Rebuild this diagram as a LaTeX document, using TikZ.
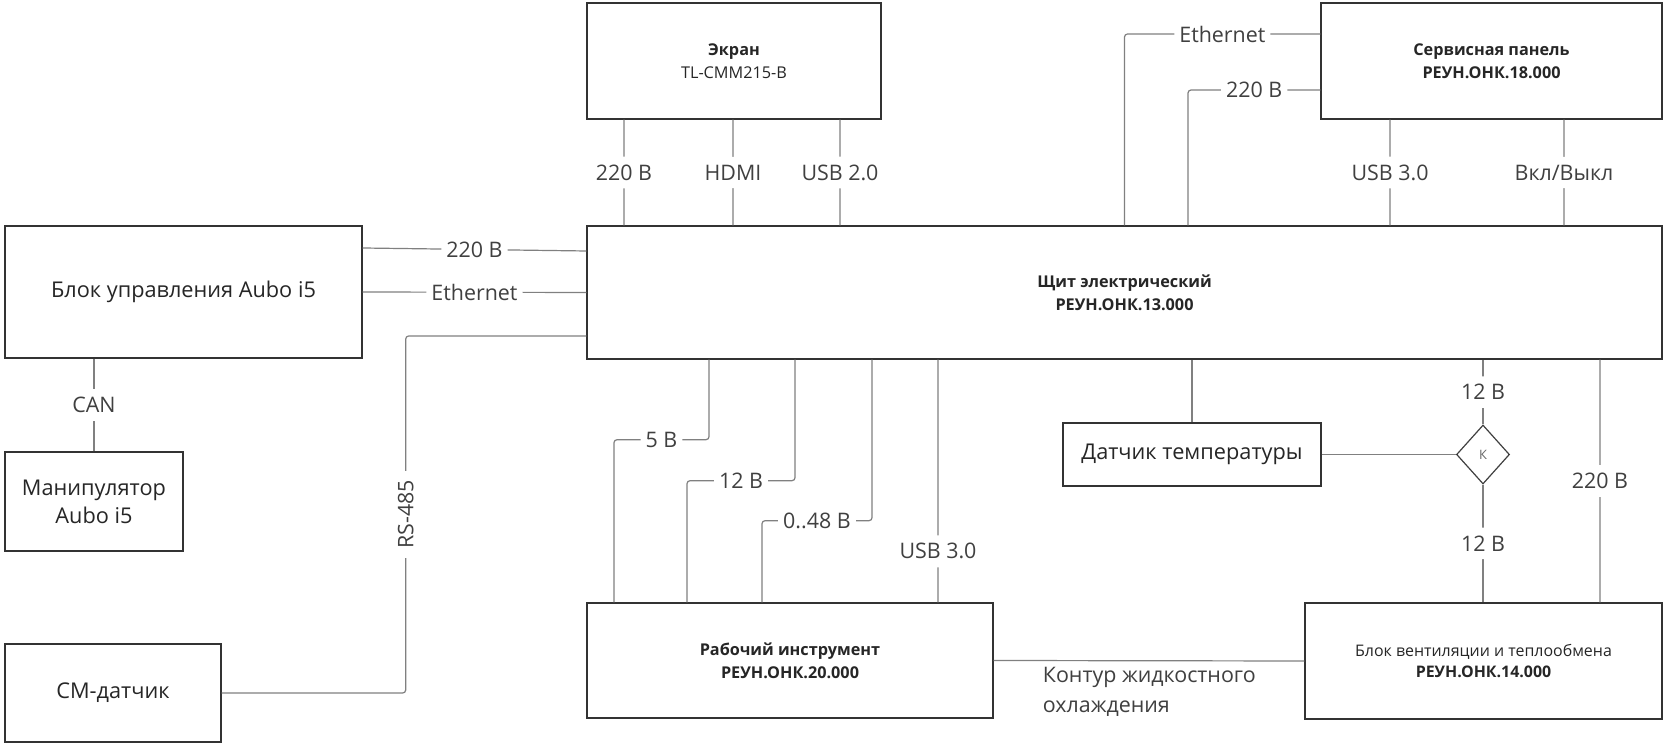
\documentclass[tikz,border=0pt]{standalone}
\usepackage{fontspec}
\setmainfont{Open Sans}
\usetikzlibrary{shapes.geometric}

\tikzset{
  unit/.style={draw=black!80,line width=1.4bp,text=black!85,align=center,inner sep=2bp,
    font=\fontsize{16.3}{23}\selectfont},
  unitlg/.style={unit,font=\fontsize{21.8}{28}\selectfont},
  wire/.style={draw=black!50,line width=1.2bp,rounded corners=3bp},
  lbl/.style={fill=white,text=black!75,font=\fontsize{21.5}{24}\selectfont,inner xsep=5bp,inner ysep=8bp},
  vlbl/.style={lbl,rotate=90,inner xsep=9bp,inner ysep=4bp},
}

\begin{document}
\begin{tikzpicture}[x=1bp,y=1bp]
  \path[use as bounding box] (0,0) rectangle (1669,748);
  \fill[white] (0,0) rectangle (1669,748);

  % blocks
  \node[unitlg,minimum width=357bp,minimum height=132bp] (blok) at (183.5,456) {Блок управления Aubo i5};
  \node[unitlg,minimum width=178bp,minimum height=99bp] (manip) at (94,246.5) {Манипулятор\\Aubo i5};
  \node[unitlg,minimum width=216bp,minimum height=98bp] (smdat) at (113,55) {СМ-датчик};
  \node[unit,minimum width=294bp,minimum height=116bp] (ekran) at (734,687) {{\bfseries Экран}\\TL-CMM215-B};
  \node[unit,minimum width=341bp,minimum height=116bp] (servis) at (1491.5,687)
    {{\bfseries Сервисная панель}\\{\bfseries РЕУН.ОНК.18.000}};
  \node[unit,minimum width=1075bp,minimum height=133bp] (shchit) at (1124.5,455.5)
    {{\bfseries Щит электрический}\\{\bfseries РЕУН.ОНК.13.000}};
  \node[unitlg,minimum width=258bp,minimum height=63bp] (datchik) at (1192,293.5) {Датчик температуры};
  \node[diamond,draw=black!75,line width=1.2bp,minimum width=53bp,minimum height=59bp,inner sep=0pt,
    text=black!60,font=\fontsize{13}{15}\selectfont] (rele) at (1483,293.5) {К};
  \node[unit,minimum width=406bp,minimum height=115bp] (rabochiy) at (790,87.5)
    {{\bfseries Рабочий инструмент}\\{\bfseries РЕУН.ОНК.20.000}};
  \node[unit,minimum width=357bp,minimum height=116bp,font=\fontsize{16}{22}\selectfont] (vent) at (1483.5,87)
    {Блок вентиляции и теплообмена\\{\bfseries РЕУН.ОНК.14.000}};

  % control unit
  \draw[wire] ([yshift=44bp]blok.east) -- node[lbl]{220 В} ([yshift=41.5bp]shchit.west);
  \draw[wire] (blok.east) -- node[lbl]{Ethernet} (shchit.west);
  \draw[wire] (manip.north) -- node[lbl]{CAN} (manip.north |- blok.south);
  \draw[wire] ([yshift=-43.5bp]shchit.west) -| node[pos=0.75,vlbl]{RS-485} ([xshift=184bp]smdat.east) -- (smdat.east);

  % screen and service panel
  \draw[wire] ([xshift=-110bp]ekran.south) -- node[lbl]{220 В} ([xshift=-500.5bp]shchit.north);
  \draw[wire] ([xshift=-1bp]ekran.south) -- node[lbl]{HDMI} ([xshift=-391.5bp]shchit.north);
  \draw[wire] ([xshift=106bp]ekran.south) -- node[lbl]{USB 2.0} ([xshift=-284.5bp]shchit.north);
  \draw[wire] ([yshift=27bp]servis.west) -| node[pos=0.25,lbl]{Ethernet} (shchit.north);
  \draw[wire] ([yshift=-29bp]servis.west) -| node[pos=0.25,lbl]{220 В} ([xshift=63.5bp]shchit.north);
  \draw[wire] ([xshift=-101.5bp]servis.south) -- node[lbl]{USB 3.0} ([xshift=265.5bp]shchit.north);
  \draw[wire] ([xshift=72.5bp]servis.south) -- node[lbl]{Вкл/Выкл} ([xshift=439.5bp]shchit.north);

  % working tool
  \draw[wire] ([xshift=-415.5bp]shchit.south) -- ++(0,-80) -| node[pos=0.25,lbl]{5 В} ([xshift=-176bp]rabochiy.north);
  \draw[wire] ([xshift=-329.5bp]shchit.south) -- ++(0,-121) -| node[pos=0.25,lbl]{12 В} ([xshift=-103bp]rabochiy.north);
  \draw[wire] ([xshift=-252.5bp]shchit.south) -- ++(0,-161) -| node[pos=0.25,lbl]{0..48 В} ([xshift=-28bp]rabochiy.north);
  \draw[wire] ([xshift=-186.5bp]shchit.south) -- node[pos=0.79,lbl]{USB 3.0} ([xshift=148bp]rabochiy.north);

  % cooling
  \draw[wire] (datchik.north) -- (datchik.north |- shchit.south);
  \draw[wire] (datchik.east) -- (rele.west);
  \draw[wire] (rele.north) -- node[lbl]{12 В} (rele.north |- shchit.south);
  \draw[wire] (rele.south) -- node[lbl]{12 В} (rele.south |- vent.north);
  \draw[wire] ([xshift=116.5bp]vent.north) -- node[lbl]{220 В} ([xshift=475.5bp]shchit.south);
  \draw[wire] (rabochiy.east) -- node[pos=0.15,anchor=north west,align=left,text=black!75,
    font=\fontsize{21.5}{30}\selectfont,inner sep=2bp,yshift=-4bp]{Контур жидкостного\\охлаждения} (vent.west);
\end{tikzpicture}
\end{document}
